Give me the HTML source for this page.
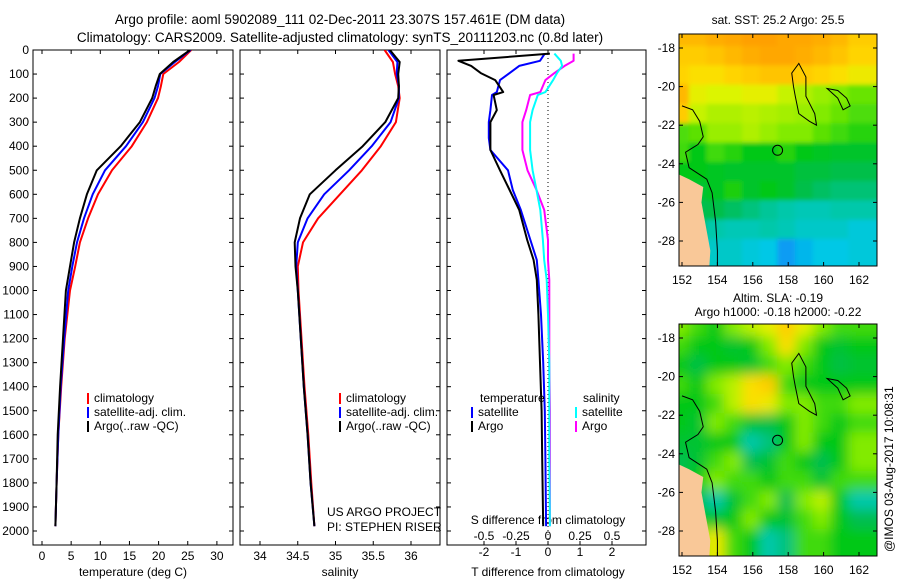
<!DOCTYPE html>
<html><head><meta charset="utf-8"><style>
html,body{margin:0;padding:0;background:#fff;width:900px;height:580px;overflow:hidden}
svg{display:block;font-family:"Liberation Sans",sans-serif}
</style></head><body>
<svg id="fig" width="900" height="580" viewBox="0 0 900 580">
<defs>
<clipPath id="c1"><rect x="679" y="34" width="198" height="232"/></clipPath>
<clipPath id="c2"><rect x="679" y="324" width="198" height="232"/></clipPath>
<clipPath id="p1"><rect x="33" y="50" width="200" height="495"/></clipPath>
<clipPath id="p2"><rect x="240" y="50" width="200" height="495"/></clipPath>
<clipPath id="p3"><rect x="447" y="50" width="199" height="495"/></clipPath>
<filter id="bl" x="-20%" y="-20%" width="140%" height="140%"><feGaussianBlur stdDeviation="6"/></filter>
<filter id="bl2" x="-20%" y="-20%" width="140%" height="140%"><feGaussianBlur stdDeviation="2"/></filter>
</defs>
<text x="340" y="24" font-size="13.5" text-anchor="middle">Argo profile: aoml 5902089_111 02-Dec-2011 23.307S 157.461E (DM data)</text>
<text x="340" y="42" font-size="13.5" text-anchor="middle">Climatology: CARS2009. Satellite-adjusted climatology: synTS_20111203.nc (0.8d later)</text>
<g id="g"></g>
</svg>
<script>
// ---- data ----
const depths = [0,50,100,150,200,300,400,500,600,700,800,900,1000,1200,1400,1600,1800,1980];
const tempArgo = [25.4,22.5,20.2,19.5,18.9,16.8,13.5,9.4,7.7,6.5,5.5,4.8,4.1,3.6,3.1,2.7,2.5,2.3];
const tempClim = [25.6,23.5,20.8,20.4,19.9,18.0,15.4,12.0,9.6,7.9,6.5,5.7,4.8,3.9,3.3,2.8,2.5,2.3];
const tempSat  = [25.5,22.8,20.3,19.9,19.3,17.3,14.4,10.8,8.7,7.2,6.0,5.2,4.5,3.8,3.2,2.8,2.5,2.3];
const salArgo = [35.72,35.85,35.83,35.84,35.83,35.66,35.36,35.00,34.66,34.53,34.46,34.47,34.50,34.54,34.58,34.63,34.67,34.72];
const salClim = [35.65,35.76,35.79,35.83,35.85,35.80,35.60,35.35,35.06,34.77,34.57,34.50,34.51,34.55,34.59,34.64,34.68,34.72];
const salSat  = [35.70,35.82,35.81,35.84,35.84,35.73,35.48,35.18,34.85,34.63,34.50,34.48,34.50,34.54,34.58,34.63,34.67,34.72];
const diffDepths = [15,45,66,96,125,175,187,250,300,366,416,500,582,665,790,873,956,1100,1300,1500,1700,1980];
const dTArgo = [0.06,-2.8,-2.4,-2.1,-1.65,-1.4,-1.7,-1.6,-1.8,-1.8,-1.8,-1.5,-1.2,-0.9,-0.65,-0.45,-0.35,-0.3,-0.25,-0.2,-0.18,-0.15];
const dTSat  = [-0.1,-0.25,-0.9,-1.2,-1.5,-1.6,-1.75,-1.8,-1.85,-1.85,-1.8,-1.25,-1.1,-0.85,-0.55,-0.35,-0.3,-0.22,-0.15,-0.1,-0.08,-0.06];
const dSSat  = [0.05,0.1,0.11,0.07,0.04,-0.02,-0.08,-0.12,-0.14,-0.14,-0.14,-0.12,-0.09,-0.06,-0.04,-0.03,-0.01,0.0,0.01,0.01,0.01,0.015];
const dSArgo = [0.2,0.2,0.13,0.05,-0.02,-0.06,-0.14,-0.17,-0.2,-0.2,-0.2,-0.16,-0.09,-0.03,0.0,0.0,0.01,0.01,0.01,0.015,0.015,0.015];
const depthTicks = [0,100,200,300,400,500,600,700,800,900,1000,1100,1200,1300,1400,1500,1600,1700,1800,1900,2000];
const tempTicks = [0,5,10,15,20,25,30];
const salTicks = [34,34.5,35,35.5,36];
const salTickLabels = ['34','34.5','35','35.5','36'];
const dTTicks = [-2,-1,0,1,2];
const dTTickLabels = ['-2','-1','0','1','2'];
const dSTicks = [-0.5,-0.25,0,0.25,0.5];
const dSTickLabels = ['-0.5','-0.25','0','0.25','0.5'];
const lonTicks = [152,154,156,158,160,162];
const latTicks = [-18,-20,-22,-24,-26,-28];
const sstGrid = [
[.85,.85,.88,.9,.92,.92,.9,.9,.88,.85,.8],
[.8,.8,.82,.85,.88,.9,.9,.88,.85,.82,.78],
[.78,.75,.75,.78,.8,.82,.82,.8,.78,.75,.72],
[.85,.7,.68,.68,.7,.7,.66,.64,.62,.6,.58],
[.8,.66,.64,.64,.65,.64,.63,.62,.6,.58,.56],
[.56,.57,.62,.62,.64,.62,.6,.6,.57,.55,.53],
[.55,.5,.55,.53,.5,.5,.53,.5,.48,.46,.46],
[.5,.5,.48,.46,.46,.46,.46,.43,.43,.41,.41],
[.45,.45,.48,.52,.46,.5,.46,.41,.38,.36,.36],
[.4,.4,.41,.38,.35,.32,.3,.28,.28,.3,.3],
[.35,.35,.3,.28,.28,.3,.28,.25,.25,.25,.22],
[.3,.3,.25,.25,.22,.2,.15,.18,.2,.2,.22]];
const slaGrid = [
[.6,.55,.5,.6,.65,.7,.8,.7,.6,.55,.55],
[.55,.5,.5,.45,.5,.6,.75,.6,.5,.45,.5],
[.5,.42,.5,.5,.45,.55,.6,.55,.5,.42,.45],
[.55,.5,.6,.65,.75,.8,.55,.5,.5,.5,.5],
[.5,.5,.55,.65,.75,.72,.6,.6,.55,.55,.6],
[.5,.45,.6,.55,.45,.42,.5,.6,.55,.5,.55],
[.45,.45,.5,.5,.3,.35,.5,.6,.5,.5,.6],
[.4,.45,.55,.6,.4,.45,.55,.5,.4,.5,.6],
[.45,.5,.6,.55,.55,.5,.55,.55,.45,.55,.55],
[.45,.4,.3,.45,.55,.6,.4,.6,.65,.5,.3],
[.5,.5,.45,.5,.6,.5,.45,.55,.6,.5,.4],
[.55,.6,.72,.55,.5,.3,.35,.55,.55,.5,.5]];
// ---- helpers ----
const NS='http://www.w3.org/2000/svg';
const G=document.getElementById('g');
function mk(t,a,p){const e=document.createElementNS(NS,t);for(const k in a)e.setAttribute(k,a[k]);(p||G).appendChild(e);return e;}
const yD=d=>50+d*0.2405;
const xT=v=>42+v*5.83;
const xS=v=>260+(v-34)*75.5;
const xDT=v=>548+v*32;
const xDS=v=>548+v*128;
const lonX=l=>682+(l-152)*17.7;
const latY1=l=>48+(-18-l)*19.3;
const latY2=l=>338+(-18-l)*19.3;
function txt(x,y,s,opts,name){const e=mk('text',Object.assign({x:x,y:y,'font-size':12},opts||{}));e.textContent=s;

return e;}
function line(xs,ds,xf,col,clip,name,w){
 const pts=xs.map((v,i)=>xf(v).toFixed(1)+','+yD(ds[i]).toFixed(1)).join(' ');
 const e=mk('polyline',{points:pts,fill:'none',stroke:col,'stroke-width':w||2,'stroke-linejoin':'round','clip-path':'url(#'+clip+')'});
 
 }
// panels
const boxes=[[33,'p1'],[240,'p2'],[447,'p3']];
boxes.forEach(([bx,cl],k)=>{
 const r=mk('rect',{x:bx,y:50,width:k==2?199:200,height:495,fill:'none',stroke:'#000'});
 
 
 depthTicks.forEach(d=>{mk('line',{x1:bx,x2:bx+4,y1:yD(d),y2:yD(d),stroke:'#000'});mk('line',{x1:bx+(k==2?199:200)-4,x2:bx+(k==2?199:200),y1:yD(d),y2:yD(d),stroke:'#000'});});
});
depthTicks.forEach(d=>txt(29,yD(d)+4,String(d),{'text-anchor':'end'},'depth-tick-label'));
tempTicks.forEach(v=>{mk('line',{x1:xT(v),x2:xT(v),y1:545,y2:541,stroke:'#000'});mk('line',{x1:xT(v),x2:xT(v),y1:50,y2:54,stroke:'#000'});txt(xT(v),560,String(v),{'text-anchor':'middle'},'temp-tick-label');});
salTicks.forEach((v,i)=>{mk('line',{x1:xS(v),x2:xS(v),y1:545,y2:541,stroke:'#000'});mk('line',{x1:xS(v),x2:xS(v),y1:50,y2:54,stroke:'#000'});txt(xS(v),560,salTickLabels[i],{'text-anchor':'middle'},'salinity-tick-label');});
dTTicks.forEach((v,i)=>{mk('line',{x1:xDT(v),x2:xDT(v),y1:545,y2:541,stroke:'#000'});mk('line',{x1:xDT(v),x2:xDT(v),y1:50,y2:54,stroke:'#000'});txt(xDT(v),556,dTTickLabels[i],{'text-anchor':'middle'},'tdiff-tick-label');});
dSTicks.forEach((v,i)=>txt(xDS(v),540,dSTickLabels[i],{'text-anchor':'middle'},'sdiff-tick-label'));
txt(133,576,'temperature (deg C)',{'text-anchor':'middle'},'x-axis-title-temperature');
txt(340,576,'salinity',{'text-anchor':'middle'},'x-axis-title-salinity');
txt(548,576,'T difference from climatology',{'text-anchor':'middle'},'x-axis-title-tdiff');
txt(548,524,'S difference from climatology',{'text-anchor':'middle'},'x-axis-title-sdiff');
mk('line',{x1:548,x2:548,y1:50,y2:545,stroke:'#000','stroke-dasharray':'1,3'});
// profiles
line(tempClim,depths,xT,'#f00','p1','temp-climatology-line');
line(tempSat,depths,xT,'#00f','p1','temp-satellite-line');
line(tempArgo,depths,xT,'#000','p1','temp-argo-line');
line(salClim,depths,xS,'#f00','p2','sal-climatology-line');
line(salSat,depths,xS,'#00f','p2','sal-satellite-line');
line(salArgo,depths,xS,'#000','p2','sal-argo-line');
line(dSArgo,diffDepths,xDS,'#f0f','p3','sdiff-argo-line');
line(dSSat,diffDepths,xDS,'#0ff','p3','sdiff-satellite-line');
line(dTSat,diffDepths,xDT,'#00f','p3','tdiff-satellite-line');
line(dTArgo,diffDepths,xDT,'#000','p3','tdiff-argo-line');
// legends
function leg(x,y,col,label){mk('line',{x1:x,x2:x,y1:y-9,y2:y+2,stroke:col,'stroke-width':2});txt(x+6,y,label,{},'legend-entry');}
[[88,'p1'],[340,'p2']].forEach(([lx])=>{leg(lx,402,'#f00','climatology');leg(lx,416,'#00f','satellite-adj. clim.');leg(lx,430,'#000','Argo(..raw -QC)');});
txt(480,402,'temperature',{},'legend-title-temperature');
txt(583,402,'salinity',{},'legend-title-salinity');
leg(472,416,'#00f','satellite');leg(472,430,'#000','Argo');
leg(576,416,'#0ff','satellite');leg(576,430,'#f0f','Argo');
txt(327,516,'US ARGO PROJECT',{},'project-label');
txt(327,531,'PI: STEPHEN RISER',{},'pi-label');
// maps
const stops=[[0.1,[16,112,255]],[0.2,[0,200,230]],[0.3,[0,200,170]],[0.4,[0,190,80]],[0.5,[0,200,20]],[0.6,[130,235,0]],[0.68,[220,245,0]],[0.76,[255,220,0]],[0.86,[255,180,0]],[0.95,[255,150,0]]];
function cmap(v){if(v<=stops[0][0])return 'rgb('+stops[0][1]+')';for(let i=1;i<stops.length;i++){if(v<=stops[i][0]){const a=stops[i-1],b=stops[i],t=(v-a[0])/(b[0]-a[0]);return 'rgb('+a[1].map((c,j)=>Math.round(c+(b[1][j]-c)*t)).join(',')+')';}}return 'rgb('+stops[stops.length-1][1]+')';}
function map(grid,y0,latY,clip,name,blur){
 const g=mk('g',{'clip-path':'url(#'+clip+')'});
 
 
 const inner=mk('g',{filter:blur},g);
 const nr=grid.length,nc=grid[0].length;
 grid.forEach((row,r)=>row.forEach((v,c)=>{
  let x=lonX(151.5+c)-2,y=latY(-17-r)-2,w=19.7,h=21.3;
  if(c==0){x-=25;w+=25;} if(c==nc-1){w+=25;}
  if(r==0){y-=25;h+=25;} if(r==nr-1){h+=25;}
  mk('rect',{x:x,y:y,width:w,height:h,fill:cmap(v)},inner);}));
 const land=[[151,-24.2],[152.4,-24.8],[153.2,-25.2],[153.1,-26],[153.3,-27],[153.6,-28.5],[153.5,-30],[151,-30]];
 mk('polygon',{points:land.map(p=>lonX(p[0])+','+latY(p[1])).join(' '),fill:'#f9c898'},g);
 const coast=[[152,-21],[152.6,-21.2],[153,-21.8],[153.2,-22.6],[152.9,-23],[152.2,-23.4],[152.4,-24.2],[153.4,-24.8],[153.7,-25.5],[153.9,-27],[154,-28.5],[154,-30]];
 mk('polyline',{points:coast.map(p=>lonX(p[0])+','+latY(p[1])).join(' '),fill:'none',stroke:'#000'},g);
 const isl=[[158.3,-20],[158.2,-19.3],[158.6,-18.8],[159,-19.5],[159,-20.5],[159.5,-21.4],[159.6,-22],[159.2,-21.8],[158.6,-21.4],[158.4,-20.5]];
 mk('polygon',{points:isl.map(p=>lonX(p[0])+','+latY(p[1])).join(' '),fill:'none',stroke:'#000'},g);
 const isl2=[[160.2,-20.1],[160.8,-20.2],[161.3,-20.6],[161.5,-21],[161.1,-21.2],[160.8,-20.6]];
 mk('polygon',{points:isl2.map(p=>lonX(p[0])+','+latY(p[1])).join(' '),fill:'none',stroke:'#000'},g);
 mk('circle',{cx:lonX(157.4),cy:latY(-23.3),r:5,fill:'none',stroke:'#000'},g);
 mk('rect',{x:679,y:y0,width:198,height:232,fill:'none',stroke:'#000'});
 lonTicks.forEach(l=>{mk('line',{x1:lonX(l),x2:lonX(l),y1:y0+232,y2:y0+228,stroke:'#000'});mk('line',{x1:lonX(l),x2:lonX(l),y1:y0,y2:y0+4,stroke:'#000'});txt(lonX(l),y0+250,String(l),{'text-anchor':'middle'},'lon-tick-label');});
 latTicks.forEach(l=>{mk('line',{x1:679,x2:683,y1:latY(l),y2:latY(l),stroke:'#000'});mk('line',{x1:873,x2:877,y1:latY(l),y2:latY(l),stroke:'#000'});txt(675,latY(l)+4,String(l),{'text-anchor':'end'},'lat-tick-label');});
}
map(sstGrid,34,latY1,'c1','sst-map','url(#bl2)');
map(slaGrid,324,latY2,'c2','sla-map','url(#bl)');
txt(778,24,'sat. SST: 25.2  Argo: 25.5',{'text-anchor':'middle'},'sst-map-title');
txt(778,302,'Altim. SLA: -0.19',{'text-anchor':'middle'},'sla-map-title');
txt(778,316,'Argo h1000: -0.18  h2000: -0.22',{'text-anchor':'middle'},'sla-map-subtitle');
txt(0,0,'@IMOS 03-Aug-2017 10:08:31',{transform:'translate(893,552) rotate(-90)'},'imos-timestamp');
</script>
</body></html>
